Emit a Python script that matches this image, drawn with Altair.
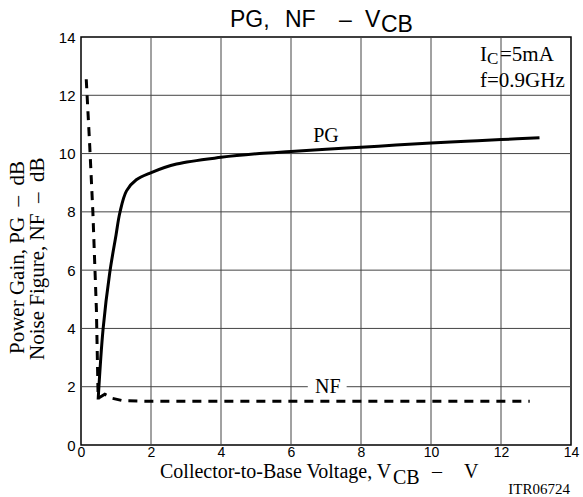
import altair as alt
import pandas as pd

# ---- data ----
pg_v = [0.49, 0.63, 0.82, 1.0, 1.11, 1.3, 1.58, 1.99, 2.73, 4.0, 5.1, 6.0, 7.0, 8.0, 9.0, 10.0, 11.0, 12.0, 13.1]
pg_db = [1.56, 3.97, 5.9, 7.2, 7.97, 8.72, 9.1, 9.34, 9.64, 9.87, 10.0, 10.07, 10.15, 10.22, 10.29, 10.36, 10.42, 10.48, 10.54]

nf_v = [0.15, 0.25, 0.34, 0.44, 0.49, 0.68, 0.9, 1.2, 2.0, 4.0, 6.0, 8.0, 10.0, 12.82]
nf_db = [12.55, 10.25, 7.97, 4.65, 1.6, 1.74, 1.6, 1.52, 1.5, 1.5, 1.5, 1.5, 1.5, 1.5]

x_ticks = [0, 2, 4, 6, 8, 10, 12, 14]
y_ticks = [0, 2, 4, 6, 8, 10, 12, 14]
x_grid = [2, 4, 6, 8, 10, 12]
y_grid = [2, 4, 6, 8, 10, 12]

curve_labels = ["PG", "NF"]
curve_label_v = [7.0, 7.05]
curve_label_y = [10.6, 1.98]

W, H = 490, 408
PADL, PADT = 81, 37
SANS = "Liberation Sans"
SERIF = "Liberation Serif"
NB = "\u00a0"

xs = alt.Scale(domain=[0, 14], nice=False, zero=False)
ys = alt.Scale(domain=[0, 14], nice=False, zero=False)

x_axis = alt.Axis(values=x_ticks, title=None, grid=False, domain=False, ticks=False,
                  labelFont=SANS, labelFontSize=14, labelColor="black", labelPadding=0,
                  labelFlush=False, format="d")
y_axis = alt.Axis(values=y_ticks, title=None, grid=False, domain=False, ticks=False,
                  labelFont=SANS, labelFontSize=15, labelColor="black", labelPadding=6,
                  labelFlush=False, format="d")

gx = alt.Chart(pd.DataFrame({"v": x_grid})).mark_rule(color="#444", strokeWidth=1).encode(
    x=alt.X("v:Q", scale=xs, axis=x_axis))
gy = alt.Chart(pd.DataFrame({"y": y_grid})).mark_rule(color="#444", strokeWidth=1).encode(
    y=alt.Y("y:Q", scale=ys, axis=y_axis))

mask = alt.Chart(pd.DataFrame({"v1": [6.48], "v2": [7.59], "y1": [1.88], "y2": [2.12]})).mark_rect(
    fill="white").encode(x=alt.X("v1:Q", scale=xs), x2="v2:Q",
                         y=alt.Y("y1:Q", scale=ys), y2="y2:Q")

pg = alt.Chart(pd.DataFrame({"v": pg_v, "y": pg_db})).mark_line(
    color="black", strokeWidth=3, interpolate="catmull-rom").encode(
    x=alt.X("v:Q", scale=xs), y=alt.Y("y:Q", scale=ys))

nf = alt.Chart(pd.DataFrame({"v": nf_v, "y": nf_db})).mark_line(
    color="black", strokeWidth=3, strokeDash=[9, 7]).encode(
    x=alt.X("v:Q", scale=xs), y=alt.Y("y:Q", scale=ys))

lbl = alt.Chart(pd.DataFrame({"t": curve_labels, "v": curve_label_v, "y": curve_label_y})).mark_text(
    font=SERIF, fontSize=20, color="black", align="center", baseline="middle").encode(
    x=alt.X("v:Q", scale=xs), y=alt.Y("y:Q", scale=ys), text="t:N")


def txt(s, px, py, size, font, align="left", angle=0, baseline="alphabetic"):
    return alt.Chart(pd.DataFrame({"t": [s]})).mark_text(
        align=align, baseline=baseline, font=font, fontSize=size, angle=angle, color="black"
    ).encode(text="t:N", x=alt.value(px - PADL), y=alt.value(py - PADT))


texts = [
    # title
    txt("PG,", 230, 27, 23, SANS),
    txt("NF", 285, 27, 23, SANS),
    txt("–", 339, 27, 23, SANS),
    txt("V", 365, 27, 23, SANS),
    txt("CB", 381, 32, 23, SANS),
    # conditions
    txt("I", 480, 61, 21, SERIF),
    txt("C", 487, 64, 17, SERIF),
    txt("=5mA", 500, 61, 21, SERIF),
    txt("f=0.9GHz", 480, 87, 21, SERIF),
    # x title
    txt("Collector-to-Base Voltage, V", 160, 478, 20, SERIF),
    txt("CB", 393, 484, 20, SERIF),
    txt("–", 432, 478, 20, SERIF),
    txt("V", 464, 478, 20, SERIF),
    txt("ITR06724", 570, 494, 15, SERIF, align="right"),
    # y titles
    txt(f"Power Gain, PG{NB}{NB}–{NB}{NB}dB", 18, 354, 21, SERIF, angle=270, baseline="middle"),
    txt(f"Noise Figure, NF{NB}{NB}–{NB}{NB}dB", 38, 360, 21, SERIF, angle=270, baseline="middle"),
]

chart = alt.layer(gx, gy, mask, pg, nf, lbl, *texts).properties(
    width=W, height=H,
    padding={"left": PADL, "top": PADT, "right": 583 - PADL - W, "bottom": 497 - PADT - H},
    autosize=alt.AutoSizeParams(type="none"),
    background="white",
).configure_view(stroke="black", strokeWidth=1.5)

chart.save("out.html", embed_options={"renderer": "svg", "actions": False})
